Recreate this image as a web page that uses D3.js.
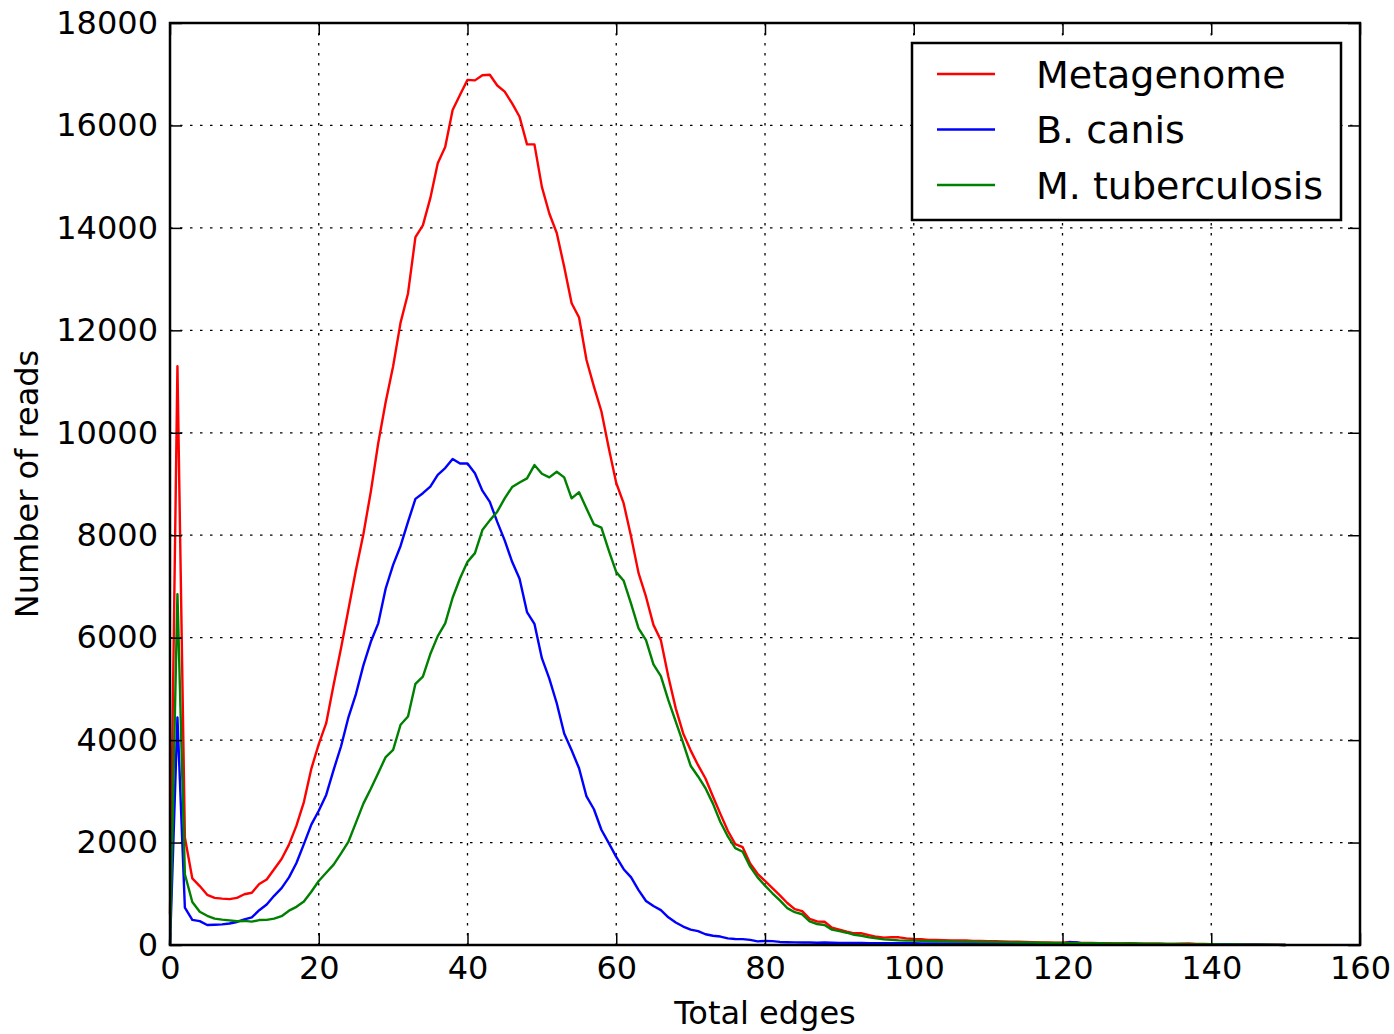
<!DOCTYPE html>
<html>
<head>
<meta charset="utf-8">
<script src="https://cdnjs.cloudflare.com/ajax/libs/d3/7.8.5/d3.min.js"></script>
<style>
  body { margin: 0; background: #fff; }
  svg text { font-family: "DejaVu Sans", sans-serif; fill: #000; }
</style>
</head>
<body>
<div id="main"></div>
<script>
// x = total edges (0..150), values = number of reads
var edges = d3.range(0, 151);

var metagenome = [
  600, 11300, 2100, 1300, 1150, 980, 920, 905, 895, 920,
  990, 1020, 1190, 1280, 1480, 1680, 1960, 2330, 2790, 3440,
  3920, 4330, 5080, 5800, 6560, 7320, 8020, 8850, 9800, 10600,
  11300, 12150, 12720, 13820, 14050, 14580, 15260, 15580, 16300, 16600,
  16890, 16880, 16980, 16990, 16780, 16660, 16430, 16170, 15630, 15630,
  14800, 14280, 13900, 13240, 12530, 12250, 11420, 10900, 10420, 9700,
  9020, 8620, 7970, 7260, 6800, 6250, 5950, 5240, 4620, 4130,
  3800, 3510, 3250, 2900, 2560, 2230, 1970, 1910, 1590, 1390,
  1250, 1110, 970, 820, 700, 660, 510, 460, 455, 340,
  300, 260, 228, 228, 190, 160, 143, 150, 150, 130,
  117, 112, 100, 98, 95, 91, 90, 88, 80, 78,
  75, 72, 70, 65, 62, 58, 55, 52, 50, 46,
  44, 60, 45, 40, 38, 36, 34, 32, 30, 35,
  28, 26, 25, 24, 22, 22, 24, 28, 22, 20,
  18, 16, 14, 12, 12, 10, 10, 8, 8, 5,
  0
];

var bcanis = [
  0, 4440, 730, 490, 465, 390, 395, 403, 420, 450,
  500, 540, 680, 790, 960, 1110, 1320, 1600, 1970, 2350,
  2620, 2930, 3420, 3880, 4450, 4900, 5460, 5920, 6280, 6960,
  7420, 7790, 8260, 8710, 8820, 8950, 9180, 9310, 9490, 9400,
  9400, 9210, 8870, 8650, 8260, 7900, 7480, 7150, 6500, 6270,
  5600, 5200, 4720, 4130, 3800, 3450, 2900, 2650, 2250, 1990,
  1720, 1480, 1320, 1070, 860, 760, 680, 540, 440, 360,
  300, 270, 210, 180, 165, 130, 118, 115, 100, 70,
  80, 75, 60, 55, 52, 50, 48, 45, 50, 45,
  40, 40, 38, 38, 36, 36, 35, 35, 34, 34,
  33, 32, 31, 30, 30, 29, 28, 28, 27, 26,
  26, 25, 25, 24, 24, 23, 23, 22, 22, 21,
  21, 55, 50, 20, 19, 19, 18, 18, 17, 17,
  16, 16, 15, 15, 14, 14, 13, 13, 12, 12,
  11, 10, 9, 8, 7, 6, 5, 4, 3, 2,
  1
];

var mtuberculosis = [
  0, 6850, 1380, 840, 650, 570, 515, 495, 480, 465,
  470, 456, 487, 490, 515, 563, 670, 745, 850, 1040,
  1250, 1410, 1570, 1790, 2020, 2390, 2760, 3050, 3360, 3670,
  3810, 4300, 4460, 5100, 5240, 5680, 6030, 6280, 6780, 7160,
  7480, 7650, 8100, 8290, 8460, 8720, 8940, 9030, 9110, 9370,
  9200, 9130, 9240, 9130, 8720, 8840, 8520, 8210, 8150, 7700,
  7280, 7110, 6660, 6180, 5950, 5480, 5250, 4780, 4360, 3940,
  3500, 3290, 3060, 2760, 2400, 2120, 1890, 1820, 1530, 1320,
  1160, 1010, 870, 720, 640, 600, 460, 410, 390, 300,
  270, 240, 200, 180, 150, 130, 110, 100, 90, 85,
  85, 80, 75, 72, 70, 68, 66, 64, 62, 60,
  58, 56, 54, 52, 50, 48, 46, 44, 42, 40,
  38, 37, 36, 35, 34, 33, 32, 31, 30, 29,
  28, 26, 25, 24, 22, 21, 20, 18, 17, 16,
  14, 13, 12, 10, 9, 8, 6, 5, 4, 2,
  1
];

var seriesNames = ['Metagenome', 'B. canis', 'M. tuberculosis'];
var seriesColors = ['#ff0000', '#0000ff', '#008000'];
var seriesValues = [metagenome, bcanis, mtuberculosis];

var xTicks = [0, 20, 40, 60, 80, 100, 120, 140, 160];
var yTicks = [0, 2000, 4000, 6000, 8000, 10000, 12000, 14000, 16000, 18000];

var width = 1394;
var height = 1034;
var margin = {top: 23, right: 34, bottom: 89, left: 170};
var w = width - margin.left - margin.right;
var h = height - margin.top - margin.bottom;

var svg = d3.select('#main')
  .append('svg')
  .attr('width', width)
  .attr('height', height);

var g = svg.append('g')
  .attr('transform', 'translate(' + margin.left + ',' + margin.top + ')');

var x = d3.scaleLinear().domain([0, 160]).range([0, w]);
var y = d3.scaleLinear().domain([0, 18000]).range([h, 0]);

// dotted grid
g.append('g')
  .selectAll('line')
  .data(xTicks)
  .enter().append('line')
  .attr('x1', function(d) { return x(d); })
  .attr('x2', function(d) { return x(d); })
  .attr('y1', 0)
  .attr('y2', h)
  .attr('stroke', '#000')
  .attr('stroke-width', 1.3)
  .attr('stroke-dasharray', '2.5,7.5');

g.append('g')
  .selectAll('line')
  .data(yTicks)
  .enter().append('line')
  .attr('x1', 0)
  .attr('x2', w)
  .attr('y1', function(d) { return y(d); })
  .attr('y2', function(d) { return y(d); })
  .attr('stroke', '#000')
  .attr('stroke-width', 1.3)
  .attr('stroke-dasharray', '2.5,7.5');

// lines
var line = d3.line()
  .x(function(d, i) { return x(edges[i]); })
  .y(function(d) { return y(d); });

seriesValues.forEach(function(vals, k) {
  g.append('path')
    .datum(vals)
    .attr('fill', 'none')
    .attr('stroke', seriesColors[k])
    .attr('stroke-width', 2.4)
    .attr('stroke-linejoin', 'round')
    .attr('d', line);
});

// axes with inward ticks on all sides
function styleAxis(sel) {
  sel.select('.domain').remove();
  sel.selectAll('.tick line').attr('stroke', '#000').attr('stroke-width', 1.5);
  sel.selectAll('.tick text').style('font-size', '32px').style('font-family', '"DejaVu Sans", sans-serif');
}

g.append('g')
  .attr('transform', 'translate(0,' + h + ')')
  .call(d3.axisBottom(x).tickValues(xTicks).tickSize(-12).tickPadding(11).tickFormat(d3.format('d')))
  .call(styleAxis);

g.append('g')
  .call(d3.axisLeft(y).tickValues(yTicks).tickSize(-12).tickPadding(12).tickFormat(d3.format('d')))
  .call(styleAxis);

g.append('g')
  .call(d3.axisTop(x).tickValues(xTicks).tickSize(-12).tickFormat(''))
  .call(styleAxis);

g.append('g')
  .attr('transform', 'translate(' + w + ',0)')
  .call(d3.axisRight(y).tickValues(yTicks).tickSize(-12).tickFormat(''))
  .call(styleAxis);

// frame
g.append('rect')
  .attr('width', w)
  .attr('height', h)
  .attr('fill', 'none')
  .attr('stroke', '#000')
  .attr('stroke-width', 2.5);

// axis labels
svg.append('text')
  .attr('x', margin.left + w / 2)
  .attr('y', 1024)
  .attr('text-anchor', 'middle')
  .style('font-size', '32px')
  .text('Total edges');

svg.append('text')
  .attr('transform', 'translate(38,' + (margin.top + h / 2) + ') rotate(-90)')
  .attr('text-anchor', 'middle')
  .style('font-size', '32px')
  .text('Number of reads');

// legend
var legend = svg.append('g')
  .attr('transform', 'translate(912,43)');

legend.append('rect')
  .attr('width', 429)
  .attr('height', 177)
  .attr('fill', '#fff')
  .attr('stroke', '#000')
  .attr('stroke-width', 2.5);

var item = legend.selectAll('.item')
  .data(seriesNames)
  .enter().append('g')
  .attr('class', 'item')
  .attr('transform', function(d, i) { return 'translate(0,' + (31 + i * 55.5) + ')'; });

item.append('line')
  .attr('x1', 25)
  .attr('x2', 83)
  .attr('stroke', function(d, i) { return seriesColors[i]; })
  .attr('stroke-width', 2.4);

item.append('text')
  .attr('x', 124)
  .attr('dy', '0.36em')
  .style('font-size', '38px')
  .text(function(d) { return d; });
</script>
</body>
</html>
